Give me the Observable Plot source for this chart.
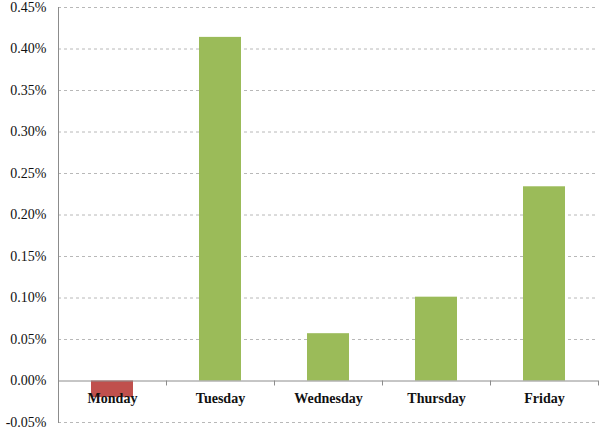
<!DOCTYPE html>
<html>
<head>
<meta charset="utf-8">
<script src="https://cdn.jsdelivr.net/npm/d3@7"></script>
<script src="https://cdn.jsdelivr.net/npm/@observablehq/plot@0.6"></script>
<style>
  html, body { margin: 0; padding: 0; background: #fff; }
  #chart { width: 600px; height: 429px; }
</style>
</head>
<body>
<div id="chart"></div>
<script>
const days = ["Monday", "Tuesday", "Wednesday", "Thursday", "Friday"];
const returns = [-0.020, 0.414, 0.057, 0.101, 0.234]; // percent
const yTicks = [-0.05, 0, 0.05, 0.10, 0.15, 0.20, 0.25, 0.30, 0.35, 0.40, 0.45];

const data = days.map((d, i) => ({day: d, value: returns[i]}));
const fmt = v => v.toFixed(2) + "%";

const chart = Plot.plot({
  width: 600,
  height: 429,
  marginLeft: 58,
  marginRight: 2,
  marginTop: 7,
  marginBottom: 7,
  style: {fontFamily: "'Liberation Serif', serif", background: "#fff"},
  x: {domain: days, padding: 0, axis: null},
  y: {domain: [-0.05, 0.45], axis: null},
  marks: [
    Plot.gridY(yTicks.filter(t => t !== 0), {stroke: "#b8b8b8", strokeOpacity: 1, strokeDasharray: "3,3"}),
    Plot.axisY(yTicks, {tickSize: 0, tickPadding: 12, tickFormat: fmt, fontSize: 14, fill: "#111", label: null}),
    Plot.barY(data, {x: "day", y: "value", fill: d => d.value < 0 ? "#c0504d" : "#9bbb59", insetLeft: 33, insetRight: 33}),
    Plot.ruleX(days, {x: d => d, y1: 0, y2: -0.006, dx: -54, stroke: "#8c8c8c"}),
    Plot.ruleX(days.slice(-1), {x: d => d, y1: 0, y2: -0.006, dx: 54, stroke: "#8c8c8c"}),
    Plot.ruleY([0], {stroke: "#8c8c8c"}),
    Plot.frame({anchor: "left", stroke: "#8c8c8c"}),
    Plot.text(days, {x: d => d, y: 0, dy: 18, text: d => d, fontWeight: "bold", fontSize: 14, fill: "#111"})
  ]
});
document.getElementById("chart").appendChild(chart);
</script>
</body>
</html>
